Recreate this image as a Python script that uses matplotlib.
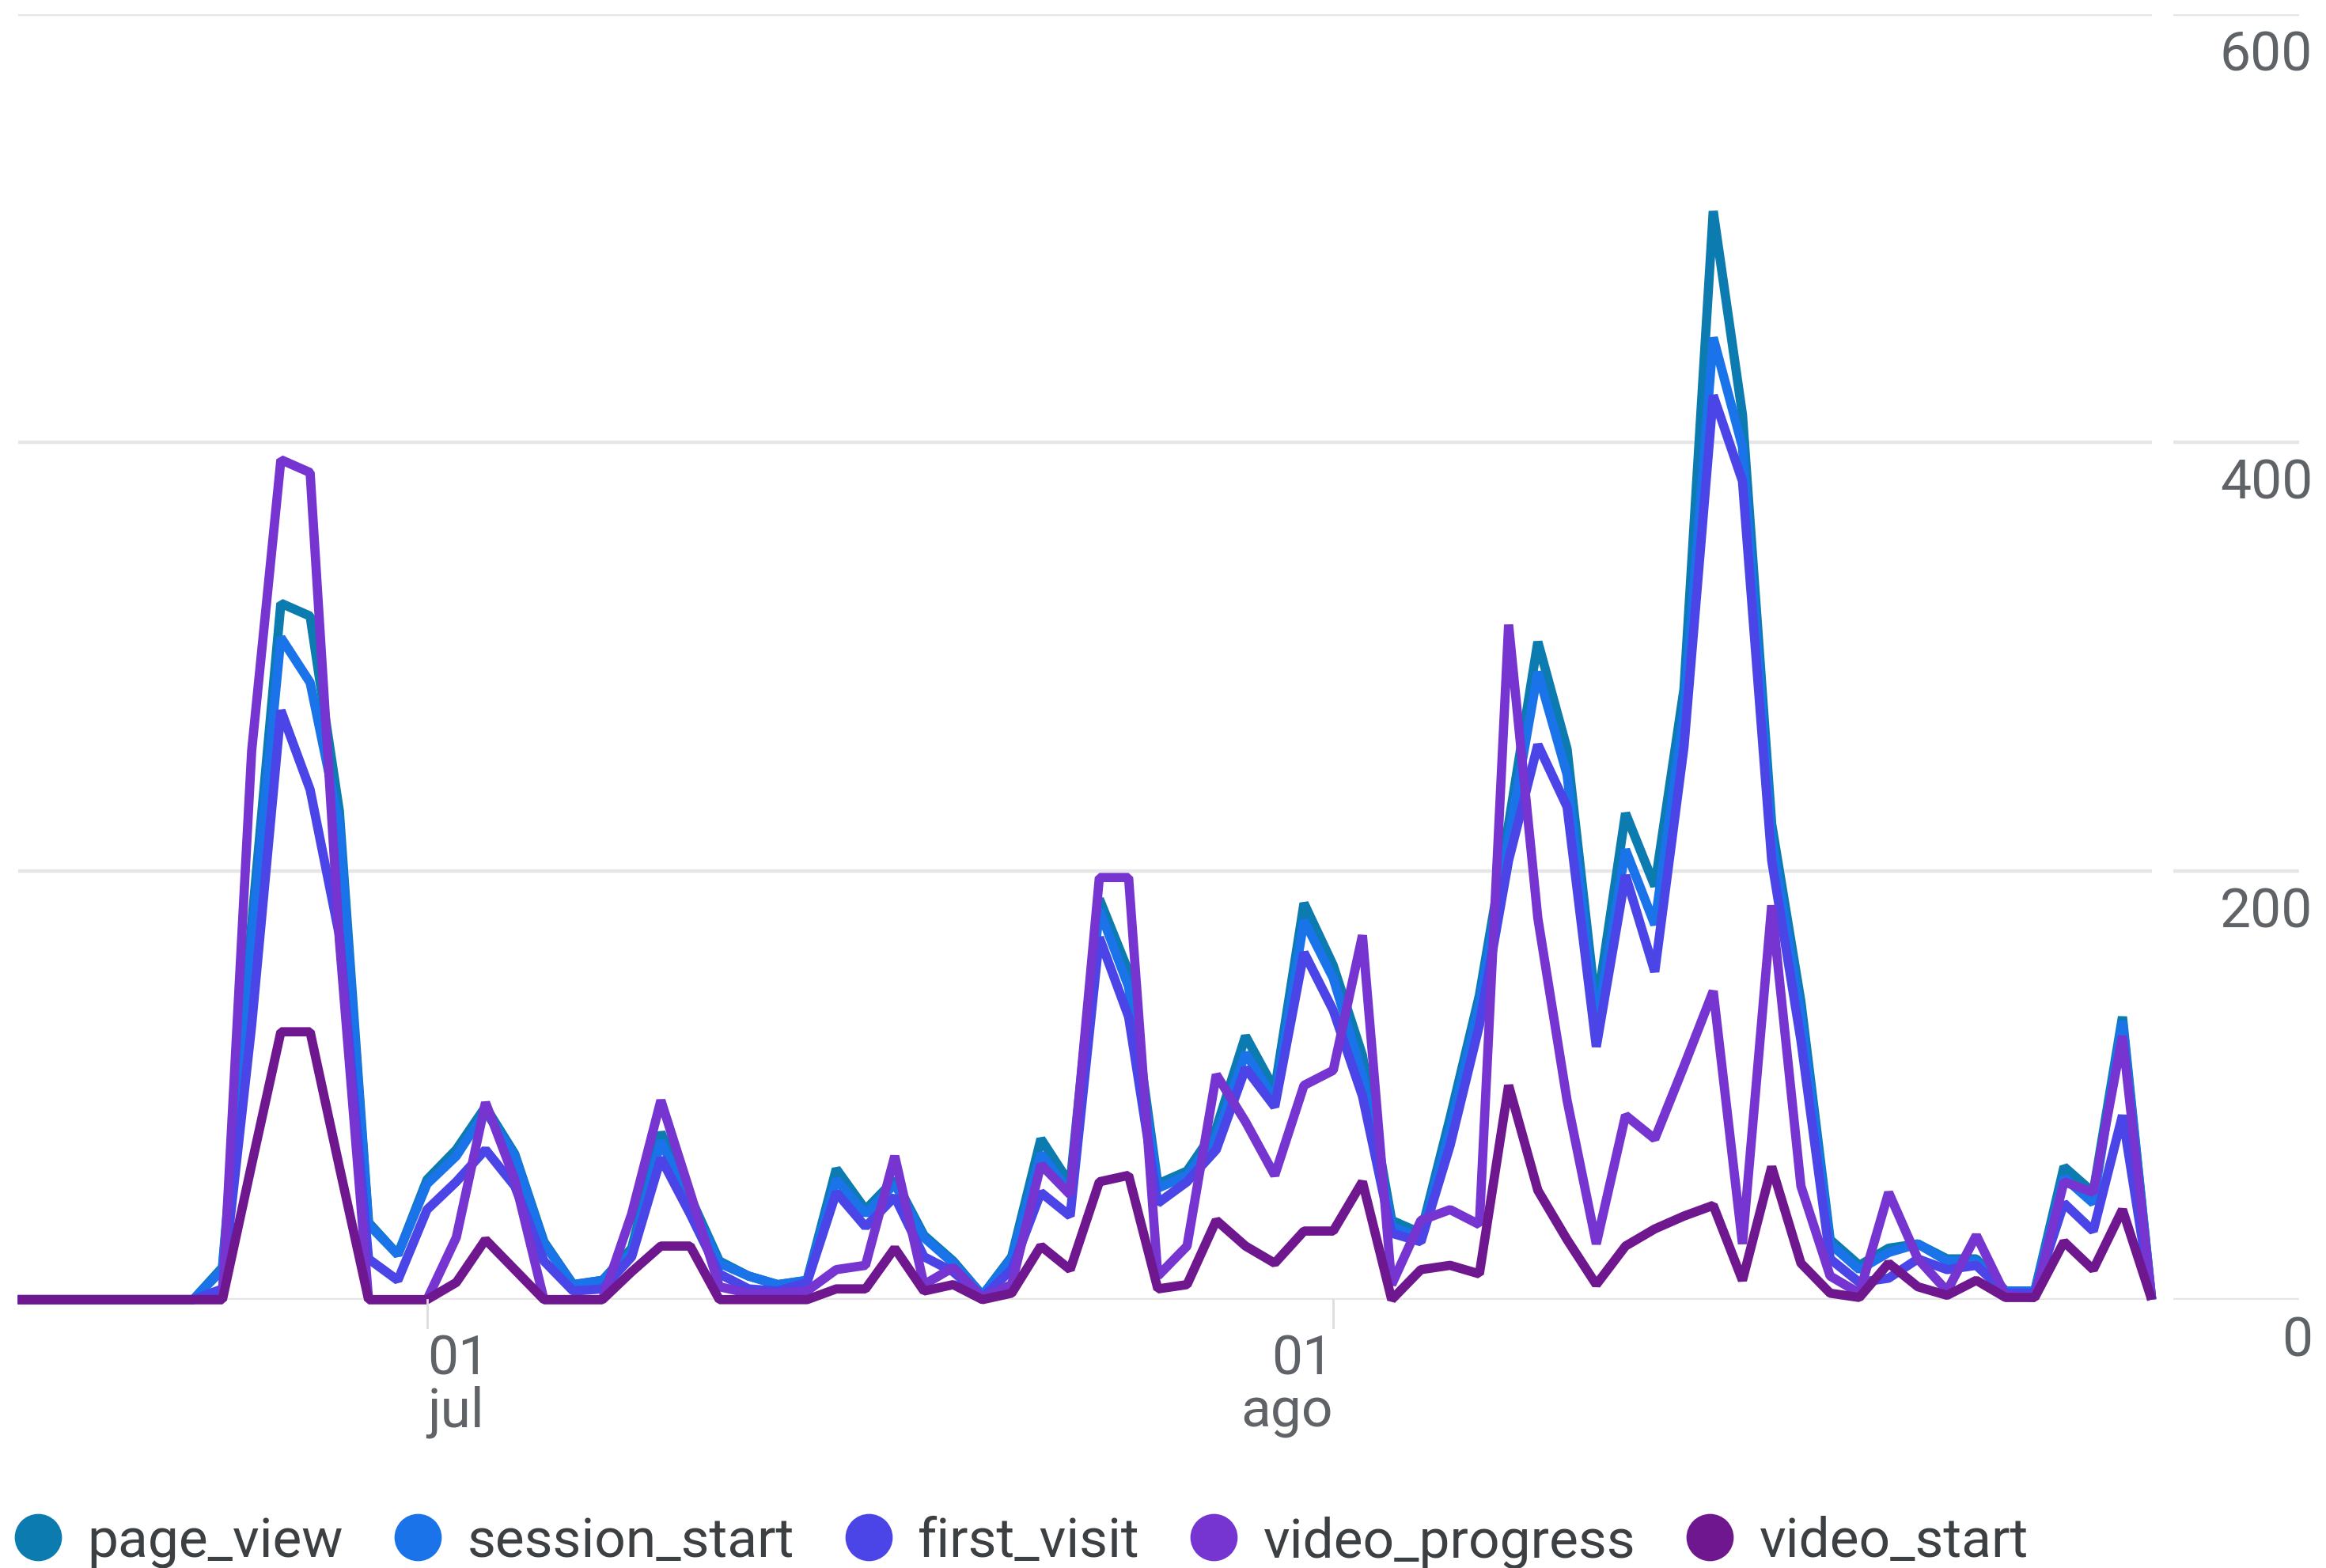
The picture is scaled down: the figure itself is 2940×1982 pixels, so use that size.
import numpy as np
import pandas as pd
import matplotlib
matplotlib.use("Agg")
import matplotlib.pyplot as plt
from matplotlib.lines import Line2D
import matplotlib.transforms as mtransforms

plt.rcParams['font.family'] = ['Roboto', 'DejaVu Sans']

# daily values, 17 jun -> 29 ago
dates = pd.date_range('2023-06-17', '2023-08-29', freq='D')

page_view = [0, 0, 0, 0, 0, 0, 0, 15, 175, 325, 319, 228, 36, 21, 56, 70, 90, 68, 27, 7,
             9, 24, 78, 48, 18, 11, 7, 9, 61, 42, 56, 30, 18, 2, 20, 75, 54, 187, 153, 54,
             60, 80, 123, 98, 185, 156, 114, 37, 31, 85, 142, 222, 307, 257, 135, 227, 193, 285, 508, 413,
             222, 139, 28, 16, 24, 26, 19, 19, 4, 4, 62, 50, 132, 0]
session_start = [0, 0, 0, 0, 0, 0, 0, 14, 168, 309, 288, 222, 35, 21, 54, 67, 88, 67, 26, 7,
                 9, 22, 74, 45, 17, 11, 7, 9, 56, 40, 54, 29, 17, 2, 19, 68, 50, 182, 146, 52,
                 58, 76, 115, 93, 177, 150, 105, 34, 29, 80, 138, 215, 293, 245, 128, 210, 175, 275, 449, 398,
                 215, 133, 26, 14, 22, 26, 18, 18, 4, 4, 57, 45, 130, 0]
first_visit = [0, 0, 0, 0, 0, 0, 0, 5, 128, 275, 238, 170, 19, 9, 42, 55, 70, 53, 18, 4,
               5, 20, 66, 40, 12, 5, 4, 8, 50, 34, 48, 20, 13, 1, 14, 50, 39, 169, 132, 45,
               55, 70, 108, 90, 162, 135, 95, 31, 27, 72, 128, 205, 259, 230, 118, 198, 153, 258, 422, 382,
               205, 121, 19, 8, 10, 19, 14, 16, 3, 3, 45, 32, 86, 0]
video_progress = [0, 0, 0, 0, 0, 0, 0, 0, 256, 392, 386, 168, 0, 0, 0, 29, 92, 56, 0, 0,
                  0, 40, 93, 50, 6, 3, 3, 4, 14, 16, 67, 7, 15, 1, 7, 63, 49, 197, 197, 11,
                  25, 105, 83, 58, 100, 107, 170, 7, 37, 42, 35, 315, 178, 93, 26, 86, 75, 109, 144, 26,
                  184, 53, 11, 3, 50, 19, 4, 30, 2, 1, 55, 50, 123, 0]
video_start = [0, 0, 0, 0, 0, 0, 0, 0, 63, 125, 125, 62, 0, 0, 0, 8, 28, 14, 0, 0,
               0, 13, 25, 25, 0, 0, 0, 0, 5, 5, 24, 4, 7, 0, 3, 25, 14, 55, 58, 5,
               7, 37, 25, 17, 32, 32, 55, 0, 14, 16, 12, 100, 51, 28, 7, 25, 33, 39, 44, 9,
               62, 17, 3, 1, 17, 6, 2, 9, 1, 1, 27, 14, 42, 0]

series_names = ['page_view', 'session_start', 'first_visit', 'video_progress', 'video_start']
series_vals = [page_view, session_start, first_visit, video_progress, video_start]
series_colors = ['#0b7bb0', '#1a73e8', '#4b44e6', '#7634d0', '#6f178e']

y_ticks = [0, 200, 400, 600]
y_labels = ['0', '200', '400', '600']
x_tick_dates = [pd.Timestamp('2023-07-01'), pd.Timestamp('2023-08-01')]
x_tick_day = ['01', '01']
x_tick_month = ['jul', 'ago']

grid_col = '#e6e6e6'
label_col = '#5f6368'
fs = 25

fig = plt.figure(figsize=(14.7, 9.915), dpi=200)
W, H = 1568.0, 1058.0   # work in the shrunk-picture pixel space
bottom = 1 - 877 / H
top = 1 - 10 / H
ax = fig.add_axes([12 / W, bottom, (1450.5 - 12) / W, top - bottom])

for v in y_ticks:
    ax.axhline(v, color=grid_col, lw=1.6, zorder=0)

for name, vals, col in zip(series_names, series_vals, series_colors):
    ax.plot(dates, vals, color=col, lw=4.2, label=name, solid_joinstyle='bevel',
            solid_capstyle='butt', clip_on=False, zorder=2)

ax.set_xlim(dates[0], dates[-1])
ax.set_ylim(0, 600)
ax.set_xticks([])
ax.set_yticks([])
for s in ax.spines.values():
    s.set_visible(False)

# small tick marks + date labels
trans = mtransforms.blended_transform_factory(ax.transData, fig.transFigure)
for i, d in enumerate(x_tick_dates):
    ax.plot([d, d], [1 - 877 / H, 1 - 896 / H], color='#dddddd', lw=1.0,
            transform=trans, clip_on=False)
    ha = 'left' if i == 0 else 'right'
    ax.text(d, 1 - 927 / H, x_tick_day[i], transform=trans, ha=ha, va='baseline',
            fontsize=fs, color=label_col)
    ax.text(d, 1 - 962 / H, x_tick_month[i], transform=trans, ha=ha, va='baseline',
            fontsize=fs, color=label_col)

# right-hand axis strip with its own short gridlines
axr = fig.add_axes([1465 / W, bottom, (1550 - 1465) / W, top - bottom])
axr.set_ylim(0, 600)
axr.set_xlim(0, 1)
axr.axis('off')
rtrans = mtransforms.blended_transform_factory(fig.transFigure, axr.transData)
for v, lab in zip(y_ticks, y_labels):
    axr.axhline(v, color=grid_col, lw=1.6)
    axr.text(1559 / W, v - 26, lab, transform=rtrans,
             ha='right', va='baseline', fontsize=fs, color=label_col, clip_on=False)

handles = [Line2D([], [], marker='o', ls='none', markersize=21.5, color=c,
                  markeredgewidth=0) for c in series_colors]
leg = fig.legend(handles, series_names, loc='center left',
                 bbox_to_anchor=(9 / W, 1 - 1040 / H), ncol=5, frameon=False,
                 fontsize=fs, handlelength=0.9, handletextpad=0.45,
                 columnspacing=0.9, borderpad=0, borderaxespad=0)
for t in leg.get_texts():
    t.set_color('#3c4043')

fig.savefig('out.png', dpi=200, facecolor='white')
